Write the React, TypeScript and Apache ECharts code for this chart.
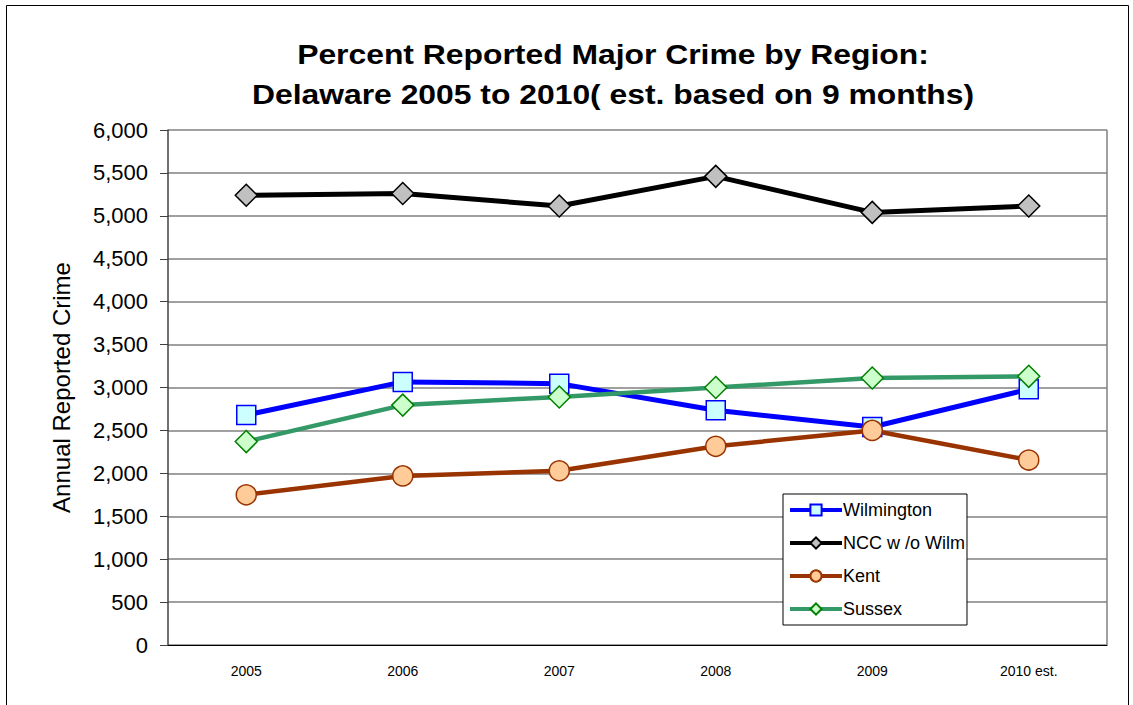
import React, { useEffect, useRef } from "react";
import * as echarts from "echarts";

const categories = ["2005", "2006", "2007", "2008", "2009", "2010 est."];
const wilmington = [2680, 3065, 3045, 2735, 2540, 2980];
const nccWithoutWilm = [5240, 5260, 5115, 5460, 5040, 5115];
const kent = [1750, 1970, 2030, 2315, 2500, 2155];
const sussex = [2370, 2795, 2890, 3000, 3110, 3130];
const yTicks = [0, 6000, 500];
const titleLines = ["Percent Reported Major Crime by Region:", "Delaware 2005 to 2010( est. based on 9 months)"];

export default function App() {
  const ref = useRef<HTMLDivElement>(null);
  useEffect(() => {
    const chart = echarts.init(ref.current!, null, { renderer: "svg" });
    const font = "Arial, 'Liberation Sans', sans-serif";
    const mk = (name: string, data: number[], color: string, width: number, symbol: string, size: number, fill: string, border: string) => ({
      name,
      type: "line",
      data,
      symbol,
      symbolSize: size,
      lineStyle: { color, width },
      itemStyle: { color: fill, borderColor: border, borderWidth: 1.5 },
      emphasis: { disabled: true },
      z: 3,
    });
    chart.setOption({
      animation: false,
      backgroundColor: "#ffffff",
      grid: { left: 168, right: 26, top: 130, bottom: 60, containLabel: false },
      legend: {
        orient: "vertical",
        left: 783,
        top: 494,
        padding: [7, 2, 7, 5],
        itemGap: 15,
        itemWidth: 52,
        itemHeight: 14,
        borderColor: "#000",
        borderWidth: 1,
        backgroundColor: "#fff",
        lineStyle: { width: 4 },
        textStyle: { fontFamily: font, fontSize: 18, lineHeight: 18, color: "#000", padding: [0, 0, 0, -4] },
        data: ["Wilmington", "NCC w /o Wilm", "Kent", "Sussex"],
      },
      xAxis: {
        type: "category",
        data: categories,
        boundaryGap: true,
        axisLine: { lineStyle: { color: "#000", width: 1 } },
        axisTick: { show: false },
        axisLabel: { fontFamily: font, fontSize: 14, color: "#000", margin: 19 },
      },
      yAxis: {
        type: "value",
        min: yTicks[0],
        max: yTicks[1],
        interval: yTicks[2],
        name: "Annual Reported Crime",
        nameLocation: "middle",
        nameGap: 95,
        nameTextStyle: { fontFamily: font, fontSize: 24, color: "#000" },
        axisLine: { show: true, lineStyle: { color: "#404040", width: 1.5 } },
        axisTick: { show: true, length: 8, inside: false, lineStyle: { color: "#404040" } },
        axisLabel: {
          fontFamily: font,
          fontSize: 22,
          color: "#000",
          margin: 20,
          formatter: (v: number) => v.toLocaleString("en-US"),
        },
        splitLine: { show: true, lineStyle: { color: "#808080", width: 1.5 } },
      },
      graphic: [
        { type: "rect", shape: { x: 6.5, y: 5.5, width: 1122, height: 720 }, style: { fill: "none", stroke: "#000", lineWidth: 1 }, silent: true },
        { type: "line", shape: { x1: 1107, y1: 130, x2: 1107, y2: 645 }, style: { stroke: "#808080", lineWidth: 1.5 }, silent: true },
        {
          type: "group",
          x: 613,
          y: 0,
          scaleX: 1.18,
          silent: true,
          children: titleLines.map((t, i) => ({
            type: "text",
            x: 0,
            y: 54 + i * 40,
            style: {
              text: t,
              fontFamily: font,
              fontSize: 27,
              fontWeight: "bold",
              fill: "#000",
              textAlign: "center",
              textVerticalAlign: "middle",
            },
          })),
        },
      ],
      series: [
        mk("Wilmington", wilmington, "#0000ff", 5, "rect", 19, "#ccffff", "#0000ff"),
        mk("NCC w /o Wilm", nccWithoutWilm, "#000000", 5, "diamond", 22, "#c0c0c0", "#000000"),
        mk("Kent", kent, "#993300", 4.5, "circle", 20, "#ffcc99", "#993300"),
        mk("Sussex", sussex, "#339966", 4.5, "diamond", 22, "#ccffcc", "#008000"),
      ],
    });
    return () => chart.dispose();
  }, []);
  return <div ref={ref} style={{ position: "fixed", left: 0, top: 0, width: 1133, height: 705 }} />;
}
